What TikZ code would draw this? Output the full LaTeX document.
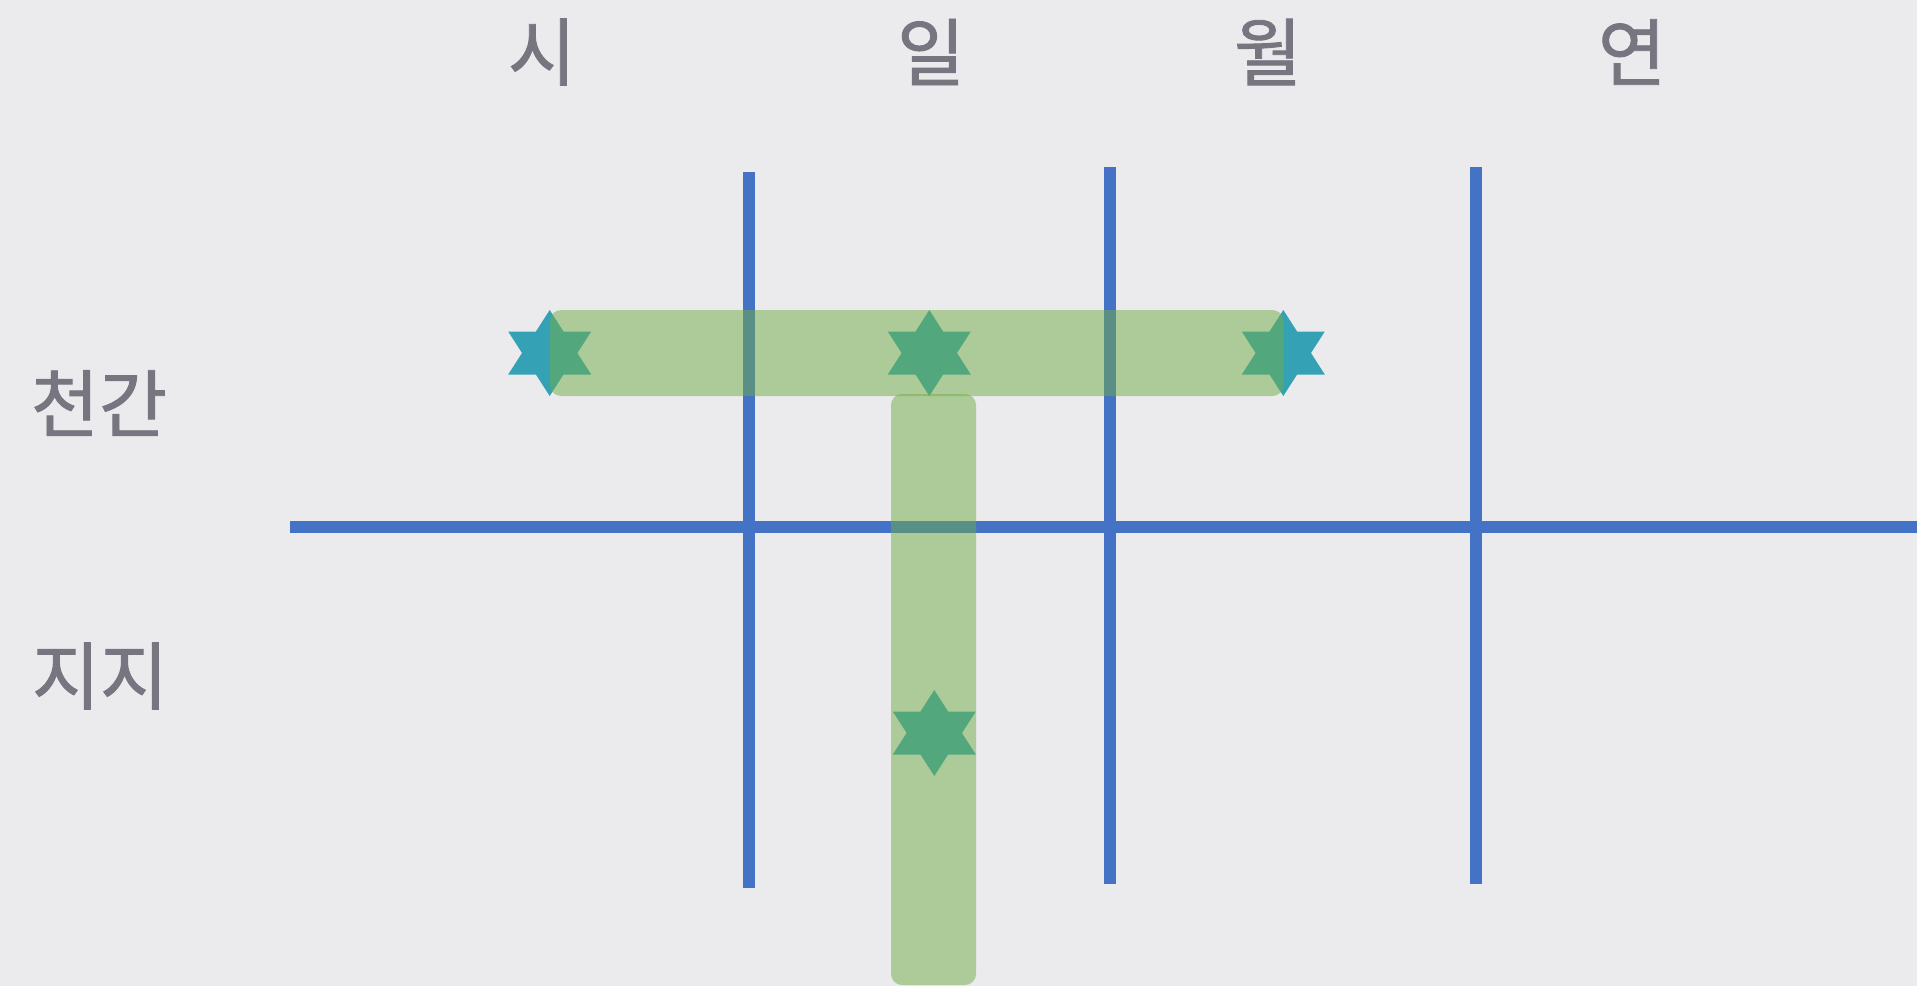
\documentclass[tikz,border=0pt]{standalone}
\usepackage{fontspec}
\newfontfamily\krfont[FakeBold=1.2]{Noto Sans CJK KR}
\definecolor{paper}{RGB}{235,235,237}
\definecolor{lineblue}{RGB}{68,114,196}
\definecolor{bargreen}{RGB}{112,173,71}
\definecolor{starteal}{RGB}{52,162,180}
\definecolor{labelgray}{RGB}{118,117,128}
\tikzset{
  gridline/.style={draw=lineblue, line width=12pt},
  pillar/.style={fill=bargreen, fill opacity=0.5, rounded corners=11pt},
  lbl/.style={text=labelgray, inner sep=0pt, font=\krfont\fontsize{74}{80}\selectfont},
}
\newcommand\hexstar[1]{%
  \fill[starteal] (#1) ++(0,-43) -- ++(13.8,21.5) -- ++(27.7,0) -- ++(-13.8,21.5)
    -- ++(13.8,21.5) -- ++(-27.7,0) -- ++(-13.8,21.5) -- ++(-13.8,-21.5)
    -- ++(-27.7,0) -- ++(13.8,-21.5) -- ++(-13.8,-21.5) -- ++(27.7,0) -- cycle;}
\begin{document}
\begin{tikzpicture}[x=1pt,y=-1pt]
\fill[paper] (0,0) rectangle (1917,986);
\useasboundingbox (0,0) rectangle (1917,986);
% labels
\node[lbl] (si) at (542,52) {시};
\node[lbl] (il) at (931,52) {일};
\node[lbl] (wol) at (1268,52) {월};
\node[lbl] (yeon) at (1632,52) {연};
\node[lbl] (cheongan) at (99,403) {천간};
\node[lbl] (jiji) at (100,676) {지지};
% grid
\coordinate (h1) at (290,527);
\coordinate (h2) at (1917,527);
\coordinate (v1t) at (749,172);
\coordinate (v1b) at (749,888);
\coordinate (v2t) at (1109.5,167);
\coordinate (v2b) at (1109.5,884);
\coordinate (v3t) at (1476,167);
\coordinate (v3b) at (1476,884);
\draw[gridline] (h1) -- (h2);
\draw[gridline] (v1t) -- (v1b);
\draw[gridline] (v2t) -- (v2b);
\draw[gridline] (v3t) -- (v3b);
% stars
\coordinate (sA) at (549.7,353);
\coordinate (sB) at (929.3,353);
\coordinate (sC) at (1283.3,353);
\coordinate (sD) at (934.3,733);
\hexstar{sA}
\hexstar{sB}
\hexstar{sC}
\hexstar{sD}
% bars
\fill[pillar] (550,310) rectangle (1283.5,396);
\fill[pillar] (891,394) rectangle (976,985);
\end{tikzpicture}
\end{document}
